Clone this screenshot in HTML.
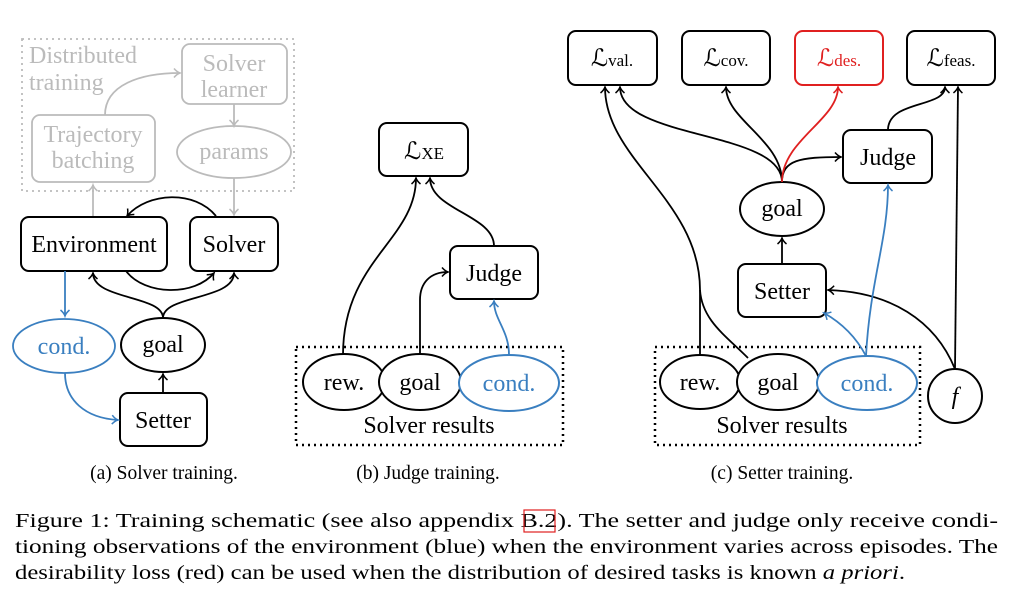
<!DOCTYPE html>
<html><head><meta charset="utf-8"><style>
html,body{margin:0;padding:0;background:#fff;}
svg{display:block;}
text{font-family:"Liberation Serif",serif;}
</style></head><body>
<svg width="1012" height="604" viewBox="0 0 1012 604" xmlns="http://www.w3.org/2000/svg">
<defs>
<marker id="ak" markerWidth="12" markerHeight="12" refX="9" refY="6" orient="auto" markerUnits="userSpaceOnUse"><path d="M3,1.5 Q6,5 9,6 Q6,7 3,10.5" fill="none" stroke="#000" stroke-width="1.5"/></marker>
<marker id="ab" markerWidth="12" markerHeight="12" refX="9" refY="6" orient="auto" markerUnits="userSpaceOnUse"><path d="M3,1.5 Q6,5 9,6 Q6,7 3,10.5" fill="none" stroke="#3a7fc0" stroke-width="1.5"/></marker>
<marker id="ar" markerWidth="12" markerHeight="12" refX="9" refY="6" orient="auto" markerUnits="userSpaceOnUse"><path d="M3,1.5 Q6,5 9,6 Q6,7 3,10.5" fill="none" stroke="#e02020" stroke-width="1.5"/></marker>
<marker id="ag" markerWidth="12" markerHeight="12" refX="9" refY="6" orient="auto" markerUnits="userSpaceOnUse"><path d="M3,1.5 Q6,5 9,6 Q6,7 3,10.5" fill="none" stroke="#bbb" stroke-width="1.5"/></marker>
</defs>

<!-- Panel a -->
<g fill="none" stroke="#bbb" stroke-width="1.8">
<rect x="22" y="39" width="272" height="152" stroke-dasharray="2,4"/>
<rect x="182" y="44" width="105" height="60" rx="8"/>
<rect x="32" y="115" width="123" height="67" rx="8"/>
<ellipse cx="234" cy="152" rx="57" ry="26"/>
<path d="M105,115 C105,85 140,73 180,73" marker-end="url(#ag)"/>
<path d="M234,104 L234,126" marker-end="url(#ag)"/>
<path d="M234,178 L234,215" marker-end="url(#ag)"/>
<path d="M93,217 L93,185" marker-end="url(#ag)"/>
</g>
<g fill="#bbb" font-size="24">
<text x="29" y="63">Distributed</text>
<text x="29" y="90">training</text>
<text x="234" y="71" text-anchor="middle">Solver</text>
<text x="234" y="97" text-anchor="middle">learner</text>
<text x="93" y="142" text-anchor="middle">Trajectory</text>
<text x="93" y="168" text-anchor="middle">batching</text>
<text x="234" y="159" text-anchor="middle">params</text>
</g>
<g fill="none" stroke="#000" stroke-width="2">
<rect x="21" y="217" width="146" height="54" rx="8"/>
<rect x="190" y="217" width="88" height="54" rx="8"/>
<ellipse cx="163" cy="345" rx="42" ry="27"/>
<rect x="120" y="393" width="87" height="53" rx="8"/>
</g>
<g fill="none" stroke="#000" stroke-width="1.8">
<path d="M216,216 C195,190 148,192 127,216" marker-end="url(#ak)"/>
<path d="M126,271 C145,296 195,296 214,273" marker-end="url(#ak)"/>
<path d="M163,318 C163,295 93,300 93,273" marker-end="url(#ak)"/>
<path d="M163,318 C163,295 234,300 234,273" marker-end="url(#ak)"/>
<path d="M163,393 L163,374" marker-end="url(#ak)"/>
</g>
<g fill="none" stroke="#3a7fc0" stroke-width="1.8">
<ellipse cx="64" cy="346" rx="51" ry="27"/>
<path d="M65,271 L65,316" marker-end="url(#ab)"/>
<path d="M65,373 C65,400 85,418 118,420" marker-end="url(#ab)"/>
</g>
<g font-size="24" text-anchor="middle">
<text x="94" y="252">Environment</text>
<text x="234" y="252">Solver</text>
<text x="163" y="352">goal</text>
<text x="64" y="354" fill="#3a7fc0">cond.</text>
<text x="163" y="428">Setter</text>
<text x="164" y="479" font-size="19.5">(a) Solver training.</text>
</g>

<!-- Panel b -->
<g fill="none" stroke="#000" stroke-width="2">
<rect x="296" y="347" width="267" height="98" stroke-dasharray="2,4" stroke-width="2.5"/>
<rect x="379" y="123" width="89" height="53" rx="8"/>
<rect x="450" y="246" width="88" height="53" rx="8"/>
<ellipse cx="344" cy="382" rx="41" ry="28" fill="#fff"/>
<ellipse cx="420" cy="382" rx="41" ry="28" fill="#fff"/>
</g>
<ellipse cx="509" cy="383" rx="50" ry="28" fill="#fff" stroke="#3a7fc0" stroke-width="2"/>
<g fill="none" stroke="#000" stroke-width="1.8">
<path d="M343,355 C343,260 416,240 416,178" marker-end="url(#ak)"/>
<path d="M494,246 C494,215 430,210 430,178" marker-end="url(#ak)"/>
<path d="M420,355 L420,300 C420,283 430,272 448,272" marker-end="url(#ak)"/>
</g>
<path d="M509,355 C509,330 494,320 494,301" fill="none" stroke="#3a7fc0" stroke-width="1.8" marker-end="url(#ab)"/>
<g font-size="24" text-anchor="middle">
<text x="424" y="159">ℒ<tspan font-size="17">XE</tspan></text>
<text x="494" y="281">Judge</text>
<text x="344" y="390">rew.</text>
<text x="420" y="390">goal</text>
<text x="509" y="391" fill="#3a7fc0">cond.</text>
<text x="429" y="433">Solver results</text>
<text x="428" y="479" font-size="19.5">(b) Judge training.</text>
</g>

<!-- Panel c -->
<g fill="none" stroke="#000" stroke-width="2">
<rect x="655" y="347" width="265" height="98" stroke-dasharray="2,4" stroke-width="2.5"/>
<rect x="568" y="31" width="89" height="54" rx="8"/>
<rect x="682" y="31" width="88" height="54" rx="8"/>
<rect x="907" y="31" width="88" height="54" rx="8"/>
<rect x="843" y="130" width="89" height="53" rx="8"/>
<ellipse cx="782" cy="209" rx="42" ry="27"/>
<rect x="738" y="264" width="88" height="53" rx="8"/>
<circle cx="955" cy="396" r="27"/>
</g>
<rect x="795" y="31" width="88" height="54" rx="8" fill="none" stroke="#e02020" stroke-width="2"/>
<g fill="none" stroke="#000" stroke-width="1.8">
<path d="M700,355 L700,290 C700,200 605,160 605,87" marker-end="url(#ak)"/>
<path d="M748,358 C725,335 702,320 700,290"/>
<path d="M782,182 C782,130 620,140 620,87" marker-end="url(#ak)"/>
<path d="M782,182 C782,140 726,120 726,87" marker-end="url(#ak)"/>
<path d="M782,182 C782,160 800,157 841,157" marker-end="url(#ak)"/>
<path d="M888,130 C888,100 945,108 945,87" marker-end="url(#ak)"/>
<path d="M955,369 L958,87" marker-end="url(#ak)"/>
<path d="M955,369 C935,320 890,292 828,290" marker-end="url(#ak)"/>
<path d="M782,264 L782,238" marker-end="url(#ak)"/>
</g>
<path d="M782,182 C782,140 838,120 838,87" fill="none" stroke="#e02020" stroke-width="1.8" marker-end="url(#ar)"/>
<g fill="none" stroke="#3a7fc0" stroke-width="1.8">
<path d="M866,356 C855,335 840,322 824,313" marker-end="url(#ab)"/>
<path d="M866,356 C870,280 888,240 888,185" marker-end="url(#ab)"/>
</g>
<g fill="#fff" stroke="#000" stroke-width="2">
<ellipse cx="700" cy="382" rx="40" ry="27"/>
<ellipse cx="778" cy="382" rx="41" ry="28"/>
</g>
<ellipse cx="867" cy="383" rx="50" ry="27" fill="#fff" stroke="#3a7fc0" stroke-width="2"/>
<g font-size="24" text-anchor="middle">
<text x="612" y="66">ℒ<tspan font-size="17">val.</tspan></text>
<text x="726" y="66">ℒ<tspan font-size="17">cov.</tspan></text>
<text x="839" y="66" fill="#e02020">ℒ<tspan font-size="17">des.</tspan></text>
<text x="951" y="66">ℒ<tspan font-size="17">feas.</tspan></text>
<text x="888" y="165">Judge</text>
<text x="782" y="216">goal</text>
<text x="782" y="299">Setter</text>
<text x="700" y="390">rew.</text>
<text x="778" y="390">goal</text>
<text x="867" y="391" fill="#3a7fc0">cond.</text>
<text x="955" y="404" font-style="italic">f</text>
<text x="782" y="433">Solver results</text>
<text x="782" y="479" font-size="19.5">(c) Setter training.</text>
</g>

<!-- Caption -->
<g font-size="20.5">
<text x="15" y="527" textLength="983" lengthAdjust="spacingAndGlyphs">Figure 1: Training schematic (see also appendix B.2).  The setter and judge only receive condi-</text>
<text x="15" y="553" textLength="983" lengthAdjust="spacingAndGlyphs">tioning observations of the environment (blue) when the environment varies across episodes.  The</text>
<text x="15" y="579" textLength="890" lengthAdjust="spacingAndGlyphs">desirability loss (red) can be used when the distribution of desired tasks is known <tspan font-style="italic">a priori</tspan>.</text>
</g>
<rect x="524" y="510" width="31" height="22" fill="none" stroke="#e02020" stroke-width="1.2"/>
</svg>
</body></html>
